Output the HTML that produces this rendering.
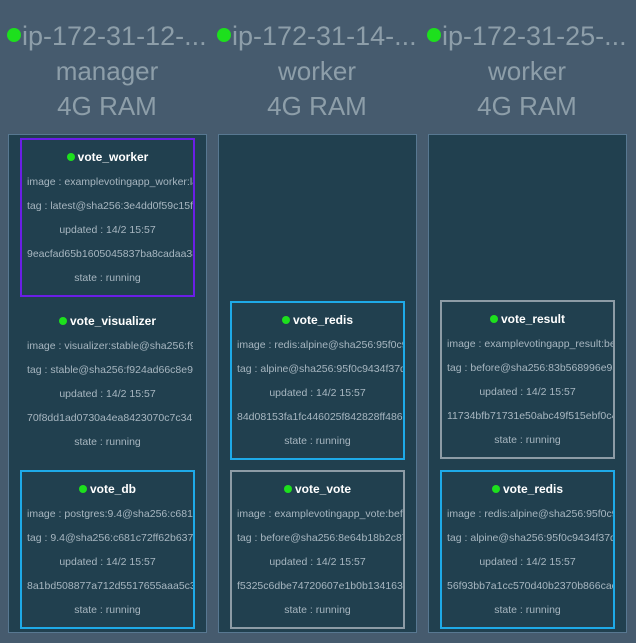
<!DOCTYPE html>
<html><head><style>
body{margin:0;width:636px;height:643px;background:#465b6e;font-family:"Liberation Sans",sans-serif;position:relative;overflow:hidden}
.h{position:absolute;top:19px;width:210px;text-align:center;color:#8d9ea9;font-size:26px;line-height:35px}
.h .ip{white-space:nowrap;overflow:hidden;text-align:left;padding-left:5px;font-size:27px}
.h .ip b{display:inline-block;width:14px;height:14px;border-radius:50%;background:#1de01d;margin-right:1px;vertical-align:3px}
.col{position:absolute;top:134px;width:197px;height:497px;background:#21404f;border:1px solid #587891}
.c{position:absolute;width:171px;height:155px;overflow:hidden;border:2px solid transparent;color:#a7b6c0;font-size:10.5px;text-align:center;white-space:nowrap}
.c .t{color:#fff;font-weight:bold;font-size:12px;margin-top:10px;height:26px}
.c .t i{display:inline-block;width:8px;height:8px;border-radius:50%;background:#1de01d;margin-right:3px;vertical-align:0}
.c div{height:24px}
.c .l{text-align:left;padding-left:5px}
</style></head><body>
<div class="h" style="left:2px"><div class="ip"><b></b>ip-172-31-12-...</div><div>manager</div><div>4G RAM</div></div>
<div class="h" style="left:212px"><div class="ip"><b></b>ip-172-31-14-...</div><div>worker</div><div>4G RAM</div></div>
<div class="h" style="left:422px"><div class="ip"><b></b>ip-172-31-25-...</div><div>worker</div><div>4G RAM</div></div>

<div class="col" style="left:8px"></div>
<div class="col" style="left:218px"></div>
<div class="col" style="left:428px"></div>

<div class="c" style="left:20px;top:138px;border-color:#6b1ee6"><div class="t"><i></i>vote_worker</div><div class="l">image : examplevotingapp_worker:latest</div><div class="l">tag : latest@sha256:3e4dd0f59c15f4</div><div>updated : 14/2 15:57</div><div class="l">9eacfad65b1605045837ba8cadaa384</div><div>state : running</div></div>
<div class="c" style="left:20px;top:302px"><div class="t"><i></i>vote_visualizer</div><div class="l">image : visualizer:stable@sha256:f92</div><div class="l">tag : stable@sha256:f924ad66c8e94</div><div>updated : 14/2 15:57</div><div class="l">70f8dd1ad0730a4ea8423070c7c347</div><div>state : running</div></div>
<div class="c" style="left:20px;top:470px;border-color:#1eaae8"><div class="t"><i></i>vote_db</div><div class="l">image : postgres:9.4@sha256:c681c7</div><div class="l">tag : 9.4@sha256:c681c72ff62b637b</div><div>updated : 14/2 15:57</div><div class="l">8a1bd508877a712d5517655aaa5c33</div><div>state : running</div></div>

<div class="c" style="left:230px;top:301px;border-color:#1eaae8"><div class="t"><i></i>vote_redis</div><div class="l">image : redis:alpine@sha256:95f0c9</div><div class="l">tag : alpine@sha256:95f0c9434f37db</div><div>updated : 14/2 15:57</div><div class="l">84d08153fa1fc446025f842828ff4865</div><div>state : running</div></div>
<div class="c" style="left:230px;top:470px;border-color:#8d9ca6"><div class="t"><i></i>vote_vote</div><div class="l">image : examplevotingapp_vote:before</div><div class="l">tag : before@sha256:8e64b18b2c87</div><div>updated : 14/2 15:57</div><div class="l">f5325c6dbe74720607e1b0b1341638</div><div>state : running</div></div>

<div class="c" style="left:440px;top:300px;border-color:#8d9ca6"><div class="t"><i></i>vote_result</div><div class="l">image : examplevotingapp_result:be</div><div class="l">tag : before@sha256:83b568996e93</div><div>updated : 14/2 15:57</div><div class="l">11734bfb71731e50abc49f515ebf0c4</div><div>state : running</div></div>
<div class="c" style="left:440px;top:470px;border-color:#1eaae8"><div class="t"><i></i>vote_redis</div><div class="l">image : redis:alpine@sha256:95f0c9</div><div class="l">tag : alpine@sha256:95f0c9434f37db</div><div>updated : 14/2 15:57</div><div class="l">56f93bb7a1cc570d40b2370b866cac</div><div>state : running</div></div>
</body></html>
